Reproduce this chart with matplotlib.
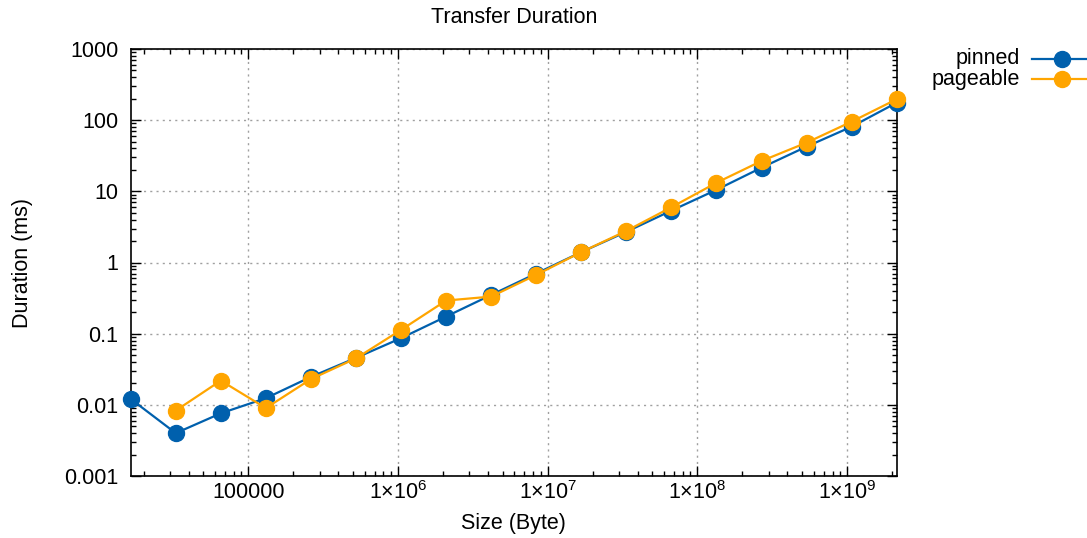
import matplotlib
matplotlib.use("Agg")
import matplotlib.pyplot as plt
import numpy as np
from matplotlib.ticker import FixedLocator, FuncFormatter, NullFormatter
from matplotlib.lines import Line2D

plt.rcParams['font.family'] = ['Liberation Sans', 'DejaVu Sans']
plt.rcParams['mathtext.fontset'] = 'custom'
plt.rcParams['mathtext.rm'] = 'Liberation Sans'
plt.rcParams['mathtext.it'] = 'Liberation Sans:italic'

# Data
sizes = [2**k for k in range(14, 32)]
pinned = [0.0121, 0.0040, 0.0076, 0.0124, 0.0247, 0.0457, 0.0865, 0.174, 0.35,
          0.70, 1.40, 2.70, 5.36, 10.5, 21.5, 42.5, 81.0, 176.0]
pageable = [np.nan, 0.0083, 0.0219, 0.0090, 0.023, 0.045, 0.113, 0.292, 0.332,
            0.67, 1.40, 2.78, 5.98, 13.2, 26.7, 48.3, 95.3, 197.0]
series_names = ['pinned', 'pageable']
colors = ['#0060ad', '#ffa500']
title = 'Transfer Duration'
xlabel = 'Size (Byte)'
ylabel = 'Duration (ms)'

W, H = 1087, 538
fig = plt.figure(figsize=(W / 100, H / 100), dpi=100)
ax = fig.add_axes([130.7 / W, 1 - 476 / H, (896.7 - 130.7) / W, (476 - 49) / H])

fs = 15.5
ms = 11.5
for vals, c in zip([pinned, pageable], colors):
    ax.plot(sizes, vals, color=c, lw=1.6, marker='o', ms=ms, clip_on=False, zorder=3)

ax.set_xscale('log')
ax.set_yscale('log')
xmin, xmax = sizes[0], sizes[-1]
ymin, ymax = 0.001, 1000
ax.set_xlim(xmin, xmax)
ax.set_ylim(ymin, ymax)


def in_range_ticks(lo, hi, subs):
    out = []
    for e in range(int(np.floor(np.log10(lo))), int(np.ceil(np.log10(hi))) + 1):
        for s in subs:
            v = s * 10.0 ** e
            if lo * (1 - 1e-9) <= v <= hi * (1 + 1e-9):
                out.append(v)
    return out


ax.xaxis.set_major_locator(FixedLocator(in_range_ticks(xmin, xmax, [1])))
ax.xaxis.set_minor_locator(FixedLocator(in_range_ticks(xmin, xmax, range(2, 10))))
ax.yaxis.set_major_locator(FixedLocator(in_range_ticks(ymin, ymax, [1])))
ax.yaxis.set_minor_locator(FixedLocator(in_range_ticks(ymin, ymax, range(2, 10))))


def xfmt(v, pos):
    e = int(round(np.log10(v)))
    if e <= 5:
        return f'{int(round(v))}'
    return r'1×10$^{%d}$' % e


def yfmt(v, pos):
    e = int(round(np.log10(v)))
    if e < 0:
        return f'{v:.{-e}f}'
    return f'{int(round(v))}'


ax.xaxis.set_major_formatter(FuncFormatter(xfmt))
ax.yaxis.set_major_formatter(FuncFormatter(yfmt))
ax.xaxis.set_minor_formatter(NullFormatter())
ax.yaxis.set_minor_formatter(NullFormatter())

ax.tick_params(which='both', direction='in', top=True, right=True, labelsize=fs, color='black')
ax.tick_params(which='major', length=7, width=1)
ax.tick_params(which='minor', length=3.5, width=1)
ax.tick_params(axis='x', pad=4)
ax.tick_params(axis='y', pad=9)

ax.grid(True, which='major', color='#a0a0a0', linestyle=(0, (1.5, 3)), lw=1)
for s in ax.spines.values():
    s.set_linewidth(1.2)

ax.set_title(title, fontsize=fs, pad=19)
ax.set_xlabel(xlabel, fontsize=fs, labelpad=6)
ax.set_ylabel(ylabel, fontsize=fs, labelpad=22)

# legend (gnuplot style: right-aligned text, sample on the right)
leg_y = [58.5, 79.3]
for name, c, yy in zip(series_names, colors, leg_y):
    fy = 1 - yy / H
    fig.text(1020 / W, fy, name, ha='right', va='center', fontsize=fs)
    fig.add_artist(Line2D([1032 / W, 1087 / W], [fy, fy], color=c, lw=1.6,
                          transform=fig.transFigure))
    fig.add_artist(Line2D([1061.7 / W], [fy], color=c, marker='o', ms=ms,
                          transform=fig.transFigure))

fig.savefig('out.png', dpi=100)
